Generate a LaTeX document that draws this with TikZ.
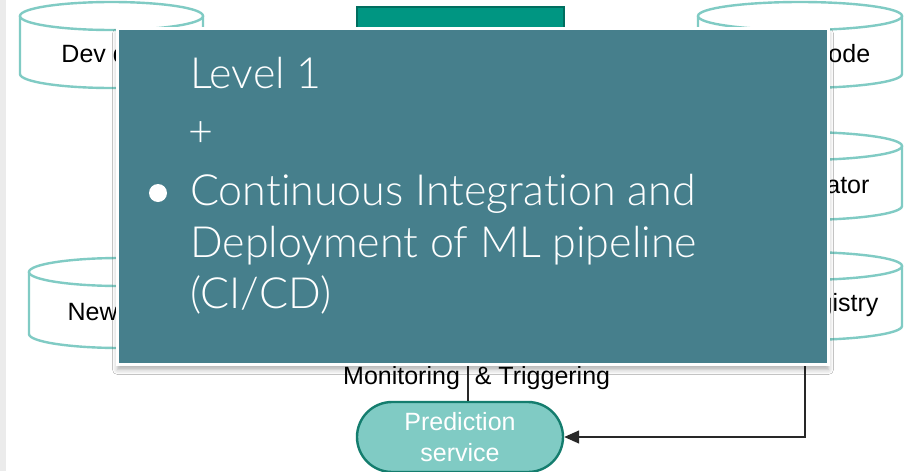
\documentclass[tikz,border=0pt]{standalone}
\usepackage{fontspec}
\setmainfont{Liberation Sans}
\newfontfamily\lightsans{Lato Light}[RawFeature={-liga;-clig;-dlig;-calt}]
\usetikzlibrary{shadows.blur,arrows.meta}

\definecolor{drumedge}{RGB}{128,203,196}
\definecolor{stripgrey}{RGB}{235,235,235}
\definecolor{cardteal}{RGB}{70,127,140}
\definecolor{stagegreen}{RGB}{0,150,130}
\definecolor{stageedge}{RGB}{0,110,95}
\definecolor{servfill}{RGB}{128,203,196}
\definecolor{servedge}{RGB}{20,125,110}
\definecolor{wire}{RGB}{40,40,40}

% cylinder outline: left, top, right, bottom
\newcommand\drumshape[4]{%
  \pgfmathsetmacro\drumrx{(#3-#1)/2}%
  \pgfmathsetmacro\drumcx{(#1+#3)/2}%
  \filldraw[drum] (#1,#2+14) -- (#1,#4-14)
    arc[start angle=180,end angle=360,x radius=\drumrx pt,y radius=14pt]
    -- (#3,#2+14);
  \filldraw[drum] (\drumcx,#2+14) ellipse[x radius=\drumrx pt,y radius=14pt];
}

\begin{document}
\begin{tikzpicture}[x=1pt,y=-1pt,
  drum/.style={draw=drumedge,fill=white,line width=2.4pt},
  drumlabel/.style={anchor=base,font=\fontsize{25}{30}\selectfont,text=black,inner sep=0pt},
  wireline/.style={draw=wire,line width=1.4pt},
  cardtext/.style={anchor=base west,inner sep=0pt,text=white,font=\lightsans\fontsize{43}{52}\selectfont},
]
\useasboundingbox (0,0) rectangle (904,471);
\fill[white] (0,0) rectangle (904,471);
\fill[stripgrey] (0,0) rectangle (6,471);

% stores
\drumshape{20}{2}{203}{88}
\node[drumlabel] (dev) at (111.5,62) {Dev data};
\drumshape{29}{258}{212}{348}
\node[drumlabel] (new) at (120.5,320) {New data};
\drumshape{698}{2}{902}{88}
\node[drumlabel] (src) at (800,62) {Source code};
\drumshape{698}{132}{902}{220}
\node[drumlabel] (orch) at (800,193) {Orchestrator};
\drumshape{698}{252}{902}{340}
\node[drumlabel] (reg) at (800,311) {Model registry};
\coordinate (regout) at (805,340);

% pipeline stage
\node[draw=stageedge,fill=stagegreen,line width=1.5pt,minimum width=207pt,minimum height=60pt,inner sep=0pt] (stage) at (460.5,37) {};

% serving
\node[draw=servedge,fill=servfill,line width=2.4pt,rounded corners=35pt,
      minimum width=206pt,minimum height=70pt,align=center,text=white,
      font=\fontsize{25}{31}\selectfont,inner sep=0pt] (pred) at (460,437) {Prediction\\service};

\coordinate (montop) at (468,300);
\draw[wireline] (montop) -- (montop |- pred.north);
\node[anchor=base west,inner sep=0pt,font=\fontsize{25}{30}\selectfont] (mon) at (343,384) {Monitoring \hspace{8pt}\& Triggering};

\draw[wireline,-{Triangle[length=15pt,width=13pt]}] (regout) |- (pred.east);

% level card
\node[draw=white,line width=3pt,fill=cardteal,minimum width=711pt,minimum height=336pt,inner sep=0pt,
      blur shadow={shadow xshift=0pt,shadow yshift=-5pt,shadow blur radius=5pt,shadow opacity=32}] (card) at (473,196.5) {};
\node[cardtext] (lvl) at (190,88) {Level 1};
\node[cardtext] (plus) at (188,146) {+};
\fill[white] (158,193) circle[radius=9pt];
\node[cardtext] (ci1) at (190,205) {Continuous Integration and};
\node[cardtext] (ci2) at (190,257) {Deployment of ML pipeline};
\node[cardtext] (ci3) at (190,308) {(CI/CD)};
\end{tikzpicture}
\end{document}
